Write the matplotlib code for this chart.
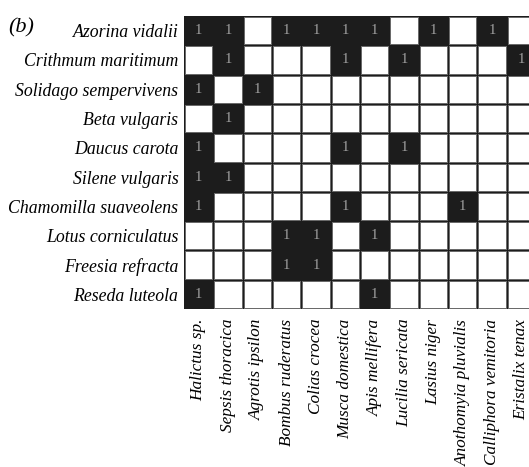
import numpy as np
import matplotlib
matplotlib.use("Agg")
import matplotlib.pyplot as plt

plants = ["Azorina vidalii", "Crithmum maritimum", "Solidago sempervivens",
          "Beta vulgaris", "Daucus carota", "Silene vulgaris",
          "Chamomilla suaveolens", "Lotus corniculatus", "Freesia refracta",
          "Reseda luteola"]
insects = ["Halictus sp.", "Sepsis thoracica", "Agrotis ipsilon",
           "Bombus ruderatus", "Colias crocea", "Musca domestica",
           "Apis mellifera", "Lucilia sericata", "Lasius niger",
           "Anothomyia pluvialis", "Calliphora vemitoria", "Eristalix tenax"]
visits = np.array([
    [1, 1, 0, 1, 1, 1, 1, 0, 1, 0, 1, 0],
    [0, 1, 0, 0, 0, 1, 0, 1, 0, 0, 0, 1],
    [1, 0, 1, 0, 0, 0, 0, 0, 0, 0, 0, 0],
    [0, 1, 0, 0, 0, 0, 0, 0, 0, 0, 0, 0],
    [1, 0, 0, 0, 0, 1, 0, 1, 0, 0, 0, 0],
    [1, 1, 0, 0, 0, 0, 0, 0, 0, 0, 0, 0],
    [1, 0, 0, 0, 0, 1, 0, 0, 0, 1, 0, 0],
    [0, 0, 0, 1, 1, 0, 1, 0, 0, 0, 0, 0],
    [0, 0, 0, 1, 1, 0, 0, 0, 0, 0, 0, 0],
    [1, 0, 0, 0, 0, 0, 1, 0, 0, 0, 0, 0],
])

plt.rcParams["font.family"] = ["Liberation Serif", "DejaVu Serif"]

fig = plt.figure(figsize=(5.29, 4.67), dpi=100)
ax = fig.add_axes([184 / 529, 158 / 467, 352 / 529, 293 / 467])

# white grid first, then the black cells on top so touching cells merge
white = np.ma.masked_where(visits == 1, visits)
black = np.ma.masked_where(visits == 0, visits)
ax.pcolormesh(white, cmap=matplotlib.colors.ListedColormap(["white"]),
              edgecolors="#6a6a6a", linewidth=0.8)
ax.pcolormesh(black, cmap=matplotlib.colors.ListedColormap(["#1c1c1c"]),
              edgecolors="#1c1c1c", linewidth=0.4)
ax.set_xlim(0, len(insects))
ax.set_ylim(len(plants), 0)

for i in range(len(plants)):
    for j in range(len(insects)):
        if visits[i, j]:
            ax.text(j + 0.5, i + 0.5, "1", ha="center", va="center",
                    color="#a0a0a0", fontsize=10.5)

ax.set_yticks(np.arange(len(plants)) + 0.5)
ax.set_yticklabels(plants, fontstyle="italic", fontsize=12.8)
ax.set_xticks(np.arange(len(insects)) + 0.5)
ax.set_xticklabels(insects, fontstyle="italic", fontsize=12.4, rotation=90)
ax.tick_params(axis="y", length=0, pad=4)
ax.tick_params(axis="x", length=0, pad=7)
for s in ax.spines.values():
    s.set_visible(False)

fig.text(8 / 529, 1 - 32 / 467, "(b)", fontsize=16, fontstyle="italic")

fig.savefig("out.png", dpi=100)
